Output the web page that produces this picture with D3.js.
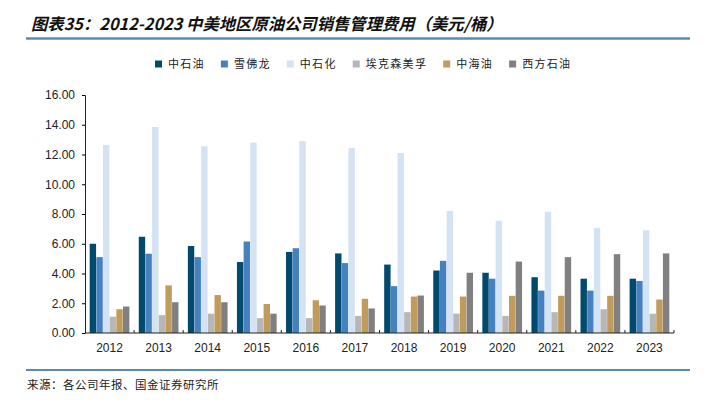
<!DOCTYPE html>
<html>
<head>
<meta charset="utf-8">
<script src="https://cdn.jsdelivr.net/npm/d3@7"></script>
<style>
  body { margin: 0; background: #fff; }
  svg { display: block; }
</style>
</head>
<body>
<div id="chart"></div>
<script>
// data
const years = ["2012","2013","2014","2015","2016","2017","2018","2019","2020","2021","2022","2023"];
const companies = ["中石油","雪佛龙","中石化","埃克森美孚","中海油","西方石油"];
const colors = ["#004a6e","#4581c0","#d3e3f3","#b7b7b7","#c09b5b","#808080"];

const petrochina = [6.00,6.47,5.85,4.77,5.45,5.35,4.60,4.20,4.05,3.75,3.65,3.65];
const chevron    = [5.10,5.33,5.10,6.15,5.70,4.70,3.15,4.85,3.65,2.85,2.85,3.50];
const sinopec    = [12.64,13.85,12.55,12.80,12.90,12.45,12.10,8.20,7.55,8.15,7.05,6.90];
const exxon      = [1.10,1.20,1.30,1.00,1.00,1.15,1.40,1.30,1.15,1.40,1.60,1.30];
const cnooc      = [1.60,3.20,2.55,1.95,2.20,2.30,2.45,2.45,2.50,2.50,2.50,2.25];
const oxy        = [1.78,2.07,2.07,1.30,1.85,1.65,2.52,4.05,4.80,5.10,5.30,5.35];
const series = [petrochina, chevron, sinopec, exxon, cnooc, oxy];

const yTicks = [0,2,4,6,8,10,12,14,16];

const svgWidth = 708, svgHeight = 406;
const margin = {top: 95, right: 34, bottom: 73, left: 85};
const width = svgWidth - margin.left - margin.right;
const height = svgHeight - margin.top - margin.bottom;

const svg = d3.select("#chart").append("svg")
  .attr("width", svgWidth)
  .attr("height", svgHeight);

// title + rule
const title = svg.append("text")
  .attr("x", 31).attr("y", 30)
  .attr("font-family", "'Noto Sans CJK SC'")
  .attr("font-size", 15)
  .attr("font-weight", "bold")
  .attr("font-style", "italic")
  .attr("fill", "#111")
  .text("图表35：2012-2023 中美地区原油公司销售管理费用（美元/桶）");
// fit title to the width it has in the reference
const tw = title.node().getBBox().width;
title.attr("font-size", 15 * 472 / tw);

svg.append("line")
  .attr("x1", 26).attr("x2", 690).attr("y1", 38.5).attr("y2", 38.5)
  .attr("stroke", "#5b8cab").attr("stroke-width", 2.5);

// legend
const legendItems = companies.map((c, i) => ({name: c, color: colors[i]}));
const legend = svg.append("g").attr("font-family", "'Noto Sans CJK SC'").attr("font-size", 11);
let lx = 0;
const lg = legend.selectAll("g").data(legendItems).enter().append("g");
lg.append("rect").attr("width", 7).attr("height", 7).attr("y", -6.5).attr("fill", d => d.color);
lg.append("text").attr("x", 13).attr("y", 0).attr("dy", "0.05em").attr("fill", "#222")
  .attr("letter-spacing", 1.3).text(d => d.name);
lg.each(function() {
  d3.select(this).attr("transform", `translate(${lx},0)`);
  lx += this.getBBox().width + 16;
});
legend.attr("transform", "translate(155,67)");

const chart = svg.append("g").attr("transform", `translate(${margin.left},${margin.top})`);

const x0 = d3.scaleBand().domain(years).range([0, width]).paddingInner(0.18).paddingOuter(0.09);
const x1 = d3.scaleBand().domain(d3.range(companies.length)).range([0, x0.bandwidth()]).padding(0.04);
const y = d3.scaleLinear().domain([0, 16]).range([height, 0]);

// bars
const groups = chart.selectAll(".year").data(years).enter().append("g")
  .attr("transform", d => `translate(${x0(d)},0)`);
groups.selectAll("rect")
  .data((d, i) => series.map((s, k) => ({k: k, v: s[i]})))
  .enter().append("rect")
  .attr("x", d => x1(d.k))
  .attr("width", x1.bandwidth())
  .attr("y", d => y(d.v))
  .attr("height", d => height - y(d.v))
  .attr("fill", d => colors[d.k]);

// y axis
const yAxis = chart.append("g")
  .call(d3.axisLeft(y).tickValues(yTicks).tickFormat(d3.format(".2f")).tickSizeOuter(0).tickSize(3).tickPadding(7));
yAxis.select(".domain").attr("stroke", "#222");
yAxis.selectAll("text").attr("font-family", "'Liberation Sans', Arial").attr("font-size", 12).attr("fill", "#222");

// x axis: small ticks between categories
const xAxis = chart.append("g").attr("transform", `translate(0,${height})`);
xAxis.append("line").attr("x1", 0).attr("x2", width).attr("stroke", "#222");
const step = x0.step();
const bounds = years.map((d, i) => x0(d) - x0.paddingInner() * step / 2 + step);
xAxis.selectAll(".tk").data(bounds).enter().append("line")
  .attr("x1", d => d).attr("x2", d => d).attr("y1", -3).attr("y2", 0)
  .attr("stroke", "#222");
xAxis.selectAll(".lbl").data(years).enter().append("text")
  .attr("x", d => x0(d) + x0.bandwidth() / 2)
  .attr("y", 19)
  .attr("text-anchor", "middle")
  .attr("font-family", "'Liberation Sans', Arial")
  .attr("font-size", 12)
  .attr("fill", "#222")
  .text(d => d);

// footer
svg.append("line")
  .attr("x1", 26).attr("x2", 690).attr("y1", 370).attr("y2", 370)
  .attr("stroke", "#23628f").attr("stroke-width", 1.5);
svg.append("text")
  .attr("x", 27).attr("y", 389)
  .attr("font-family", "'Noto Sans CJK SC'")
  .attr("font-size", 11.5)
  .attr("letter-spacing", 0.5)
  .attr("fill", "#222")
  .text("来源：各公司年报、国金证券研究所");
</script>
</body>
</html>
